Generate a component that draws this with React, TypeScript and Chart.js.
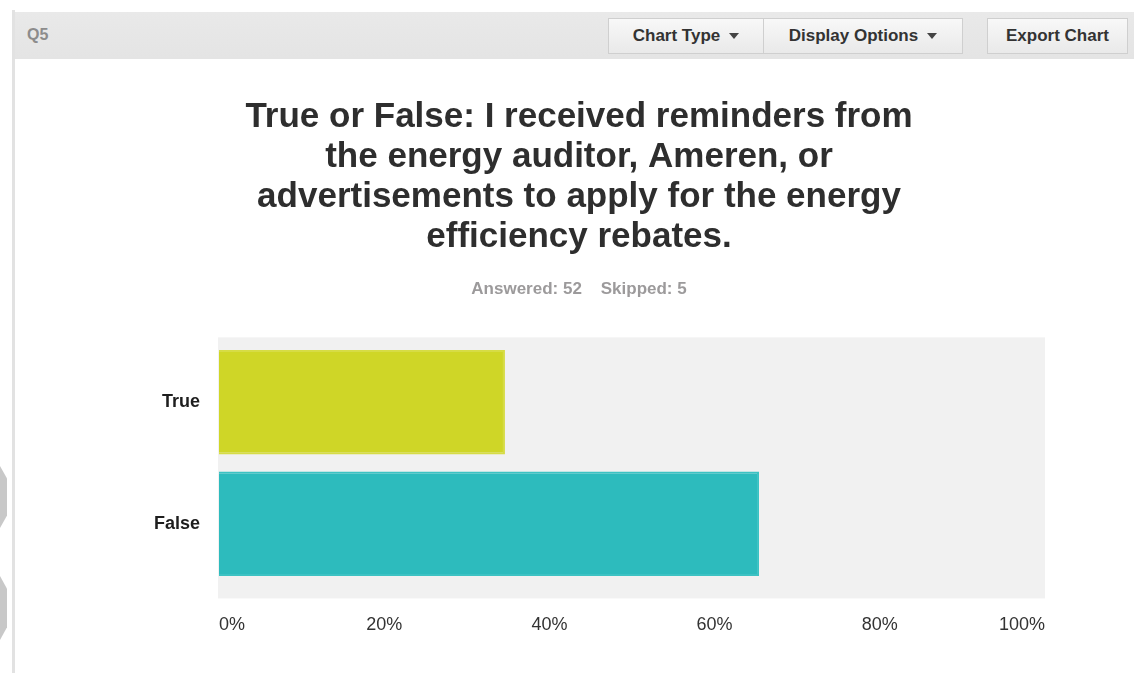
import React, { useEffect, useRef } from "react";
import { Chart, registerables } from "chart.js";

Chart.register(...registerables);

const categories: string[] = ["True", "False"];
const percentValues: number[] = [34.62, 65.38];
const barColors: string[] = ["#cfd627", "#2dbbbd"];
const barBorderColors: string[] = ["#d6dc45", "#3cc2c3"];
const titleLines: string[] = [
  "True or False: I received reminders from",
  "the energy auditor, Ameren, or",
  "advertisements to apply for the energy",
  "efficiency rebates.",
];
const subtitleText = "Answered: 52    Skipped: 5";
const questionLabel = "Q5";

const FONT = "'Liberation Sans', Arial, Helvetica, sans-serif";

const plotBackground = {
  id: "plotBackground",
  beforeDraw(chart: any) {
    const { ctx, chartArea } = chart;
    if (!chartArea) return;
    ctx.save();
    ctx.fillStyle = "#f1f1f1";
    const top = chartArea.top - 4;
    const bottom = chartArea.bottom + 14;
    ctx.fillRect(chartArea.left - 1, top, chartArea.right - chartArea.left + 1, bottom - top);
    ctx.restore();
  },
};

function Button({ left, width, label, arrow }: { left: number; width: number; label: string; arrow?: boolean }) {
  return (
    <div
      style={{
        position: "absolute",
        left,
        top: 18,
        width,
        height: 36,
        boxSizing: "border-box",
        border: "1px solid #cfcfcf",
        background: "linear-gradient(#f8f8f8, #e9e9e9)",
        display: "flex",
        alignItems: "center",
        justifyContent: "center",
        fontFamily: FONT,
        fontWeight: "bold",
        fontSize: 17,
        color: "#333",
        whiteSpace: "nowrap",
      }}
    >
      {label}
      {arrow ? (
        <span
          style={{
            display: "inline-block",
            marginLeft: 9,
            width: 0,
            height: 0,
            borderLeft: "5px solid transparent",
            borderRight: "5px solid transparent",
            borderTop: "6px solid #444",
          }}
        />
      ) : null}
    </div>
  );
}

export default function App() {
  const canvasRef = useRef<HTMLCanvasElement | null>(null);

  useEffect(() => {
    if (!canvasRef.current) return;
    const chart = new Chart(canvasRef.current, {
      type: "bar",
      data: {
        labels: categories,
        datasets: [
          {
            data: percentValues,
            backgroundColor: barColors,
            borderColor: barBorderColors,
            borderWidth: 2,
            barPercentage: 0.86,
            categoryPercentage: 1,
          },
        ],
      },
      options: {
        indexAxis: "y",
        animation: false,
        responsive: false,
        layout: { padding: { left: 113, right: 89, top: 0, bottom: 7 } },
        plugins: {
          legend: { display: false },
          tooltip: { enabled: false },
          title: {
            display: true,
            text: titleLines,
            color: "#2e2e2e",
            font: { family: FONT, size: 35, weight: "bold", lineHeight: 40 / 35 },
            padding: { top: 97, bottom: 0 },
          },
          subtitle: {
            display: true,
            text: subtitleText,
            color: "#9c9a9b",
            font: { family: FONT, size: 17, weight: "bold", lineHeight: 1.2 },
            padding: { top: 22, bottom: 42 },
          },
        },
        scales: {
          x: {
            min: 0,
            max: 100,
            grid: { display: false, drawTicks: false },
            border: { display: false },
            ticks: {
              stepSize: 20,
              align: "inner",
              padding: 30,
              color: "#333",
              font: { family: FONT, size: 18 },
              callback: (v: any) => v + "%",
            },
          },
          y: {
            grid: { display: false, drawTicks: false },
            border: { display: false },
            afterFit: (scale: any) => {
              scale.width = 106;
            },
            ticks: {
              padding: 19,
              color: "#1e1e1e",
              font: { family: FONT, size: 18, weight: "bold" },
            },
          },
        },
      },
      plugins: [plotBackground],
    });
    return () => chart.destroy();
  }, []);

  return (
    <div
      style={{
        position: "absolute",
        left: 0,
        top: 0,
        width: 1134,
        height: 673,
        overflow: "hidden",
        background: "#ffffff",
      }}
    >
      <canvas
        ref={canvasRef}
        width={1134}
        height={673}
        style={{ position: "absolute", left: 0, top: 0, width: 1134, height: 673 }}
      />
      <div style={{ position: "absolute", left: 12, top: 10, width: 3, height: 663, background: "#e2e2e2" }} />
      <div
        style={{
          position: "absolute",
          left: 15,
          top: 12,
          width: 1119,
          height: 47,
          background: "linear-gradient(#e9e9e9, #e4e4e4)",
        }}
      />
      <div
        style={{
          position: "absolute",
          left: 27,
          top: 26,
          fontFamily: FONT,
          fontWeight: "bold",
          fontSize: 16,
          color: "#8c8c8c",
        }}
      >
        {questionLabel}
      </div>
      <Button left={608} width={156} label="Chart Type" arrow />
      <Button left={763} width={200} label="Display Options" arrow />
      <Button left={987} width={141} label="Export Chart" />
      <div
        style={{
          position: "absolute",
          left: 0,
          top: 466,
          width: 7,
          height: 62,
          background: "#c8c8c8",
          clipPath: "polygon(0 0, 100% 20%, 100% 80%, 0 100%)",
        }}
      />
      <div
        style={{
          position: "absolute",
          left: 0,
          top: 576,
          width: 7,
          height: 64,
          background: "#c8c8c8",
          clipPath: "polygon(0 0, 100% 20%, 100% 80%, 0 100%)",
        }}
      />
    </div>
  );
}
